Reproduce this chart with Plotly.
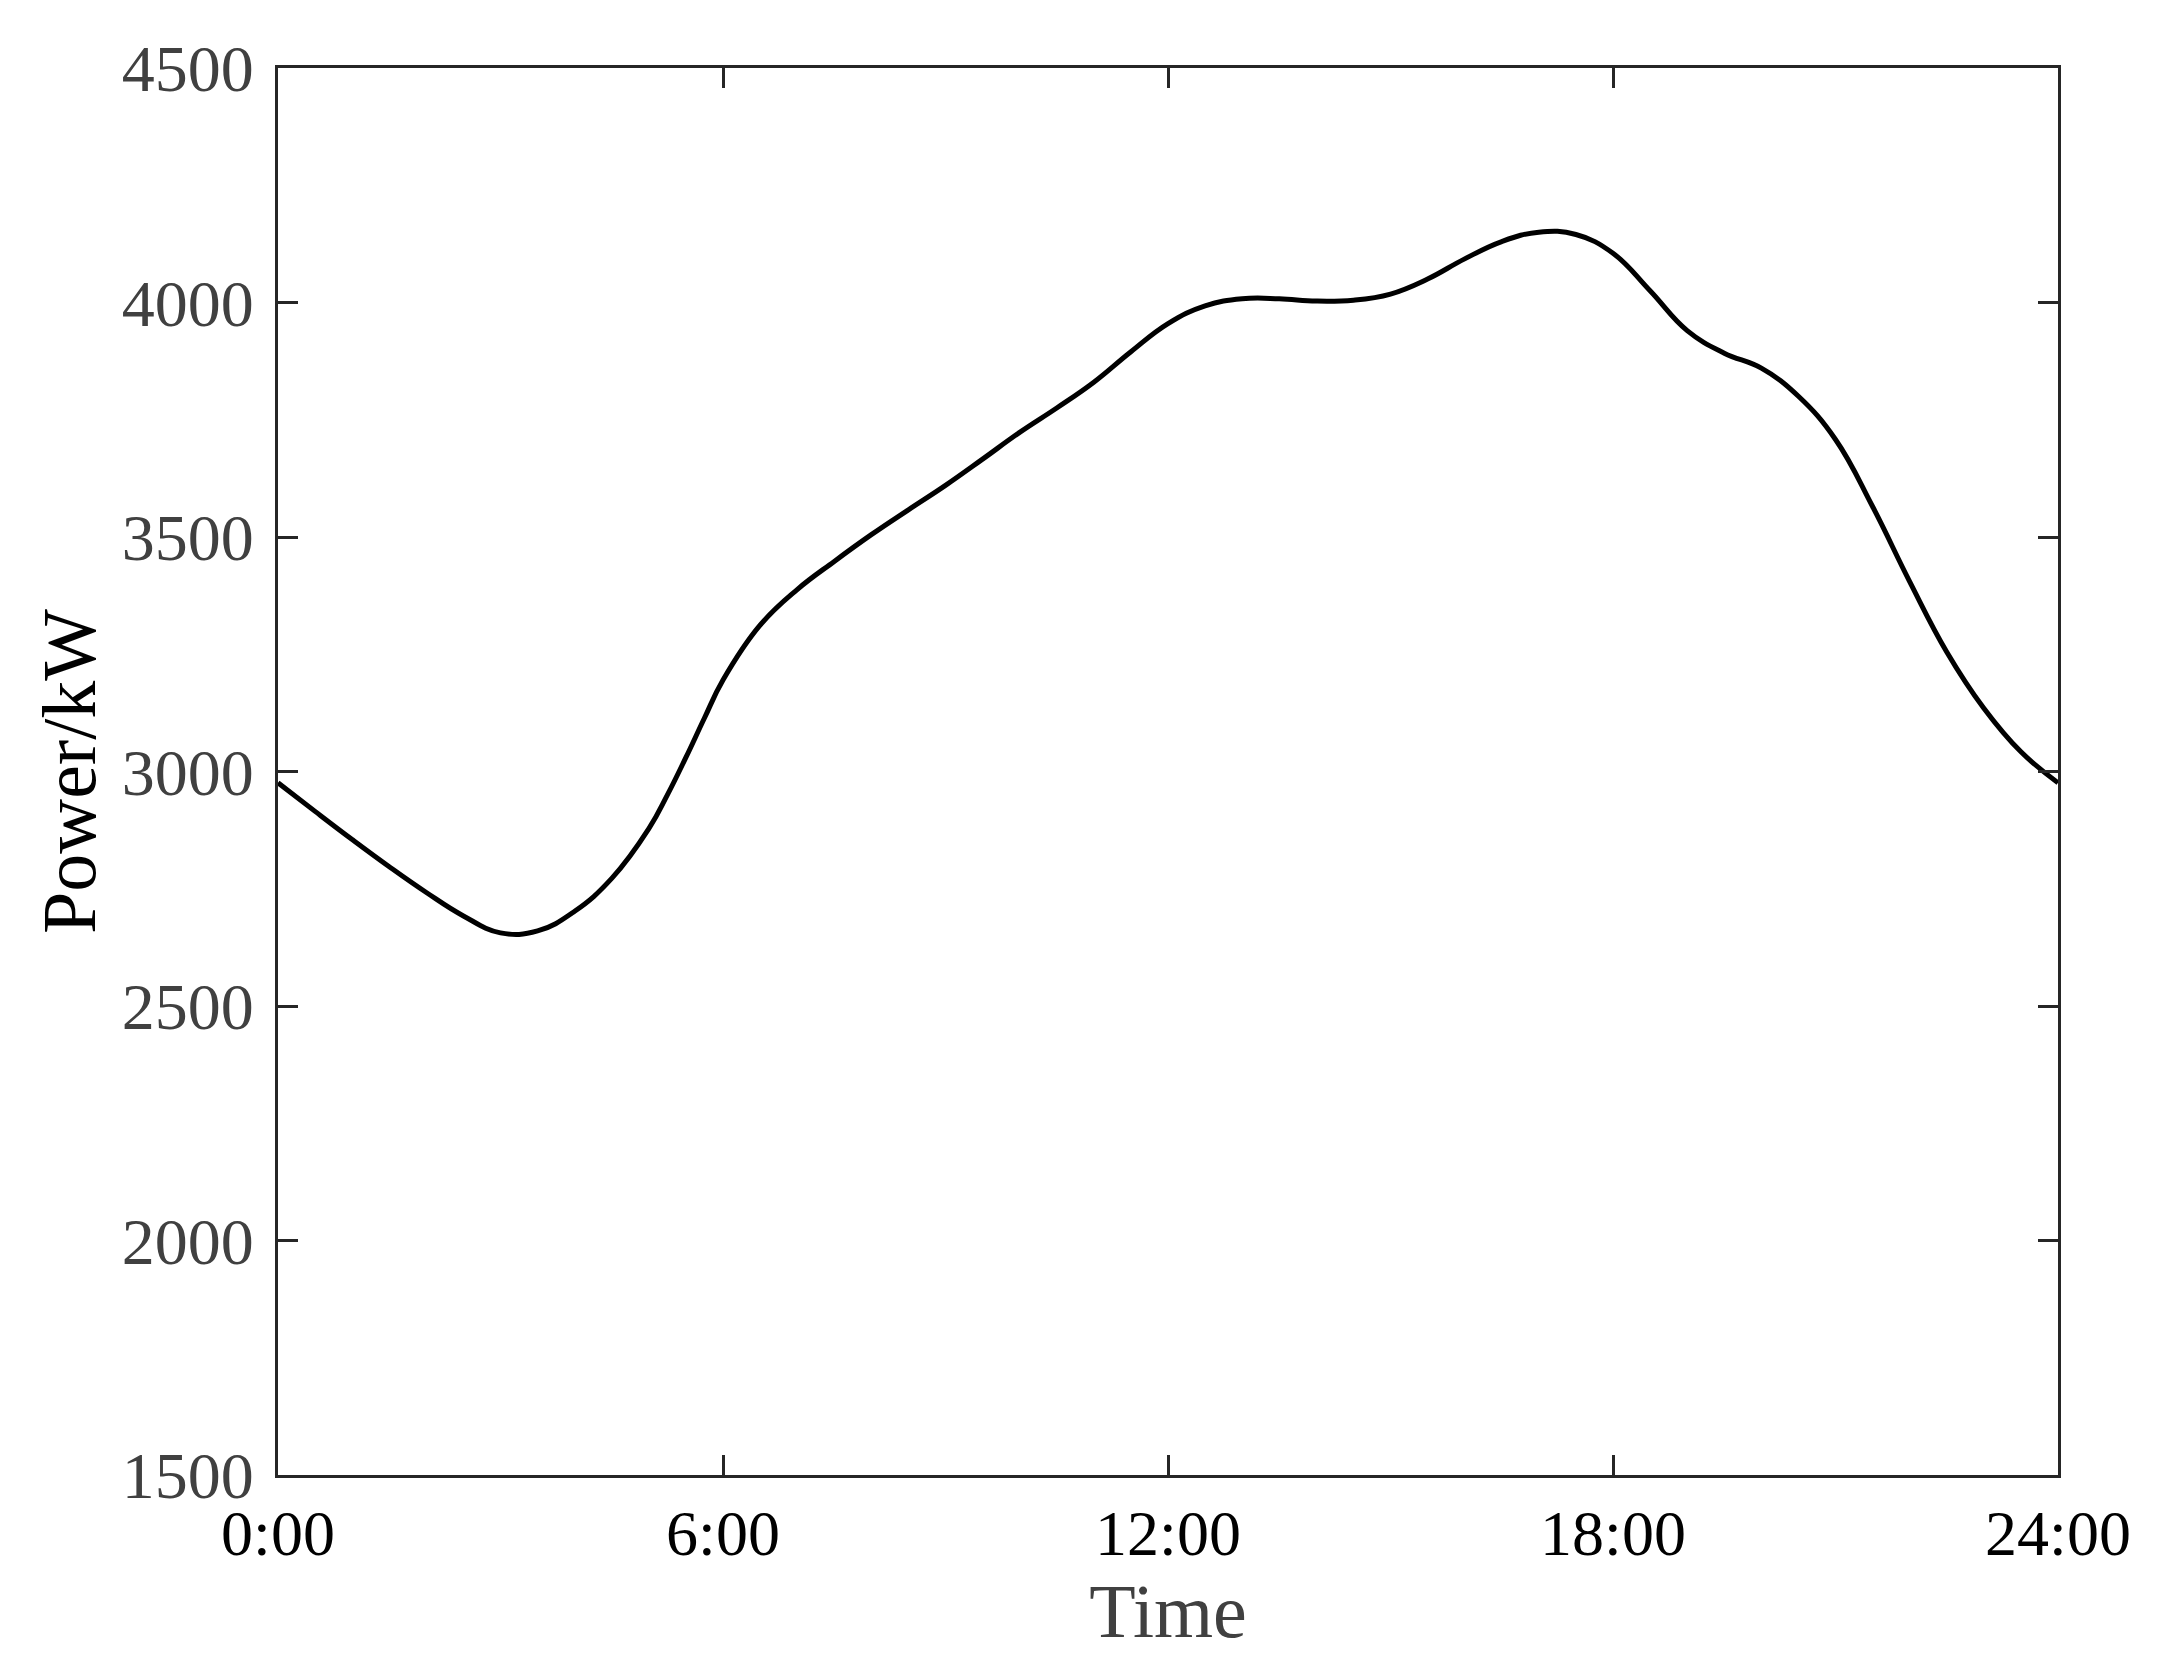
import plotly.graph_objects as go

hours = [0, 0.5, 1, 1.5, 2, 2.5, 3, 3.5, 4, 4.5, 5, 5.25, 5.5, 5.75, 6, 6.5, 7, 7.5, 8, 8.5, 9, 9.5,
         10, 10.5, 11, 11.5, 12, 12.5, 13, 13.5, 14, 14.5, 15, 15.5, 16, 16.5, 17, 17.5,
         18, 18.5, 19, 19.5, 20, 20.5, 21, 21.5, 22, 22.5, 23, 23.5, 24]
power = [2976, 2915, 2855, 2797, 2742, 2692, 2656, 2660, 2702, 2772, 2878, 2950, 3030, 3114, 3195, 3312, 3388, 3448,
         3505, 3558, 3610, 3666, 3723, 3775, 3830, 3895, 3955, 3993, 4008, 4008, 4003, 4005,
         4018, 4050, 4093, 4130, 4150, 4145, 4105, 4025, 3940, 3892, 3860, 3800, 3708, 3565,
         3405, 3255, 3135, 3042, 2976]

xtick_vals = [0, 6, 12, 18, 24]
xtick_text = ["0:00", "6:00", "12:00", "18:00", "24:00"]
ytick_vals = [1500, 2000, 2500, 3000, 3500, 4000, 4500]

FONT = "Liberation Serif"

fig = go.Figure()
fig.add_trace(go.Scatter(
    x=hours, y=power, mode="lines",
    line=dict(color="black", width=5, shape="spline", smoothing=1.2),
    showlegend=False, hoverinfo="skip",
))

fig.update_layout(
    width=2169, height=1668,
    margin=dict(l=270, r=119, t=60, b=201),
    paper_bgcolor="white", plot_bgcolor="white",
    font=dict(family=FONT, size=66, color="#404040"),
)
fig.update_xaxes(
    range=[0, 24], tickvals=xtick_vals, ticktext=xtick_text,
    ticks="inside", ticklen=20, tickwidth=3, tickcolor="#262626",
    showline=True, linecolor="#262626", linewidth=3, mirror="ticks",
    showgrid=False, zeroline=False,
    tickfont=dict(family=FONT, size=64, color="black"),
    title=dict(text="Time", font=dict(family=FONT, size=76, color="#404040"), standoff=17),
)
fig.update_yaxes(
    range=[1500, 4500], tickvals=ytick_vals,
    ticks="inside", ticklen=20, tickwidth=3, tickcolor="#262626",
    showline=True, linecolor="#262626", linewidth=3, mirror="ticks",
    showgrid=False, zeroline=False, ticklabelstandoff=8,
    tickfont=dict(family=FONT, size=66, color="#404040"),
    title=dict(text="Power/kW", font=dict(family=FONT, size=76, color="black"), standoff=2),
)

fig.write_html("out.html")
